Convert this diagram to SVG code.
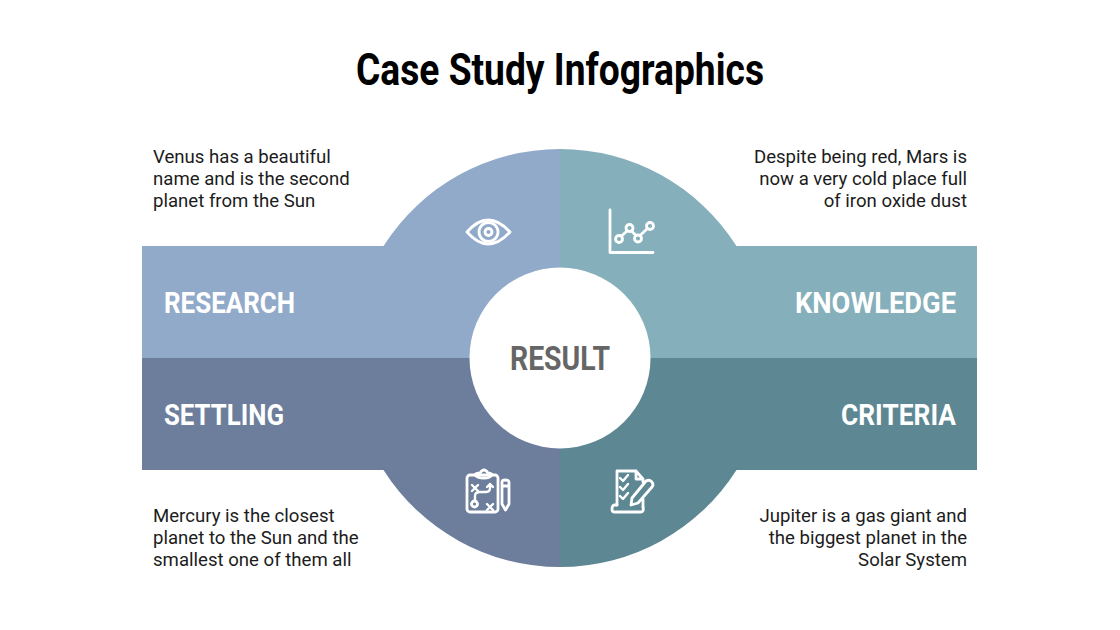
<svg xmlns="http://www.w3.org/2000/svg" width="1120" height="630" viewBox="0 0 1120 630">
<style>
.t{font-family:"Roboto","Liberation Sans",sans-serif}
.b{font-size:18.6px;fill:#1c1c1c}
.e{text-anchor:end}
.h{font-family:"Roboto","Liberation Sans",sans-serif;font-weight:700;font-size:30px;fill:#fff}
.i{fill:none;stroke:#fff;stroke-width:2.8;stroke-linecap:round;stroke-linejoin:round}
</style>
<rect width="1120" height="630" fill="#fff"/>
<text id="title" class="t" x="356" y="85" font-size="45" font-weight="700" fill="#000" textLength="408" lengthAdjust="spacingAndGlyphs">Case Study Infographics</text>
<g id="research">
<path d="M560 358H142V246H383.5A209 209 0 0 1 560 149Z" fill="#92aaca"/>
<text class="h" x="164" y="313" textLength="131" lengthAdjust="spacingAndGlyphs">RESEARCH</text>
<g class="i"><path d="M467 232Q488 208 510 232Q488 256 467 232Z"/><circle cx="488.500" cy="232" r="9.500"/><circle cx="488.500" cy="232" r="3.500"/></g>
<g class="t b"><text x="153" y="163">Venus has a beautiful</text><text x="153" y="185">name and is the second</text><text x="153" y="207">planet from the Sun</text></g>
</g>
<g id="knowledge">
<path d="M560 358H977V246H736.500A209 209 0 0 0 560 149Z" fill="#85afbb"/>
<text class="h e" x="956" y="313" textLength="161" lengthAdjust="spacingAndGlyphs">KNOWLEDGE</text>
<g class="i"><path d="M610 210V252.500H653"/><path d="M621.500 236L627 231M631.500 231L636 235.500M640 235.500L647.500 228.500"/><circle cx="619" cy="239" r="3.500"/><circle cx="629.500" cy="228" r="3.500"/><circle cx="638" cy="238.500" r="3.500"/><circle cx="650" cy="226" r="3.500"/></g>
<g class="t b e"><text x="967" y="163">Despite being red, Mars is</text><text x="967" y="185">now a very cold place full</text><text x="967" y="207">of iron oxide dust</text></g>
</g>
<g id="settling">
<path d="M560 358H142V470H383.5A209 209 0 0 0 560 567Z" fill="#6c7e9b"/>
<text class="h" x="164" y="425" textLength="120" lengthAdjust="spacingAndGlyphs">SETTLING</text>
<g class="i"><rect x="467" y="475" width="31" height="37" rx="3"/><path d="M475 475Q476 473 480 473Q482 470 484 470Q486 470 488 473Q491 473 492 475Q490 478 484 478Q477 478 475 475Z"/><path d="M472 485L478 491M478 485L472 491M487 504L493 510M493 504L487 510" stroke-width="2.400"/><circle cx="474.500" cy="504" r="3"/><path d="M475 500V496Q475 492 480 492H486Q490 492 490 488V484M487 487L490 484L493 487" stroke-width="2.400"/><path d="M502 482Q502 480 505.500 480Q509 480 509 482V504L505.500 510L502 504ZM502 486H509"/></g>
<g class="t b"><text x="153" y="522">Mercury is the closest</text><text x="153" y="544">planet to the Sun and the</text><text x="153" y="566">smallest one of them all</text></g>
</g>
<g id="criteria">
<path d="M560 358H977V470H736.500A209 209 0 0 1 560 567Z" fill="#5d8793"/>
<text class="h e" x="956" y="425" textLength="115" lengthAdjust="spacingAndGlyphs">CRITERIA</text>
<g class="i"><path d="M643 507V499M617 505V471H636L643 479M636 471V479H643V482"/><path d="M617 505H614Q612 506 612 509Q612 512 614 512H641Q644 512 643 507"/><path d="M620 478L623 481L628 475M620 487L623 490L628 484M620 496L623 499L628 493" stroke-width="2.400"/><path d="M632 498L646 481Q649 479 652 482Q654 485 652 487L638 503L631 505Z"/></g>
<g class="t b e"><text x="967" y="522">Jupiter is a gas giant and</text><text x="967" y="544">the biggest planet in the</text><text x="967" y="566">Solar System</text></g>
</g>
<g id="result">
<circle cx="560" cy="358" r="90.500" fill="#fff"/>
<text x="560" y="370" text-anchor="middle" font-family="Roboto,'Liberation Sans',sans-serif" font-weight="700" font-size="33" fill="#666" textLength="100" lengthAdjust="spacingAndGlyphs">RESULT</text>
</g>
</svg>
